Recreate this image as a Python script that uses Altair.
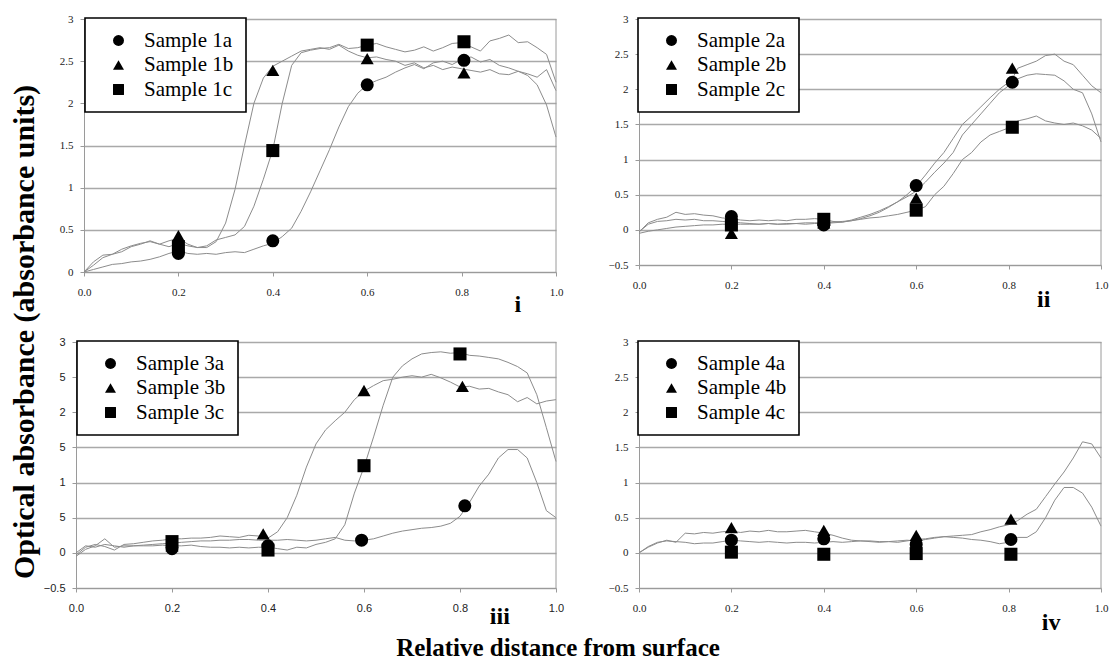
import altair as alt
import pandas as pd

# ---------------- data ----------------
XS = [0.00, 0.02, 0.04, 0.06, 0.08, 0.10, 0.12, 0.14, 0.16, 0.18,
      0.20, 0.22, 0.24, 0.26, 0.28, 0.30, 0.32, 0.34, 0.36, 0.38,
      0.40, 0.42, 0.44, 0.46, 0.48, 0.50, 0.52, 0.54, 0.56, 0.58,
      0.60, 0.62, 0.64, 0.66, 0.68, 0.70, 0.72, 0.74, 0.76, 0.78,
      0.80, 0.82, 0.84, 0.86, 0.88, 0.90, 0.92, 0.94, 0.96, 0.98, 1.00]

# panel i curves
P1A = [0.00, 0.03, 0.06, 0.09, 0.10, 0.12, 0.13, 0.15, 0.18, 0.22,
       0.25, 0.22, 0.21, 0.22, 0.21, 0.23, 0.24, 0.23, 0.27, 0.31,
       0.34, 0.42, 0.52, 0.72, 0.95, 1.20, 1.45, 1.72, 1.96, 2.12,
       2.22, 2.27, 2.31, 2.37, 2.42, 2.46, 2.41, 2.48, 2.50, 2.46,
       2.52, 2.55, 2.49, 2.52, 2.45, 2.42, 2.38, 2.33, 2.22, 1.98, 1.60]
P1B = [0.00, 0.12, 0.20, 0.21, 0.27, 0.31, 0.34, 0.36, 0.33, 0.37,
       0.40, 0.33, 0.29, 0.29, 0.36, 0.58, 0.98, 1.50, 2.00, 2.30,
       2.44, 2.50, 2.56, 2.62, 2.64, 2.66, 2.64, 2.69, 2.62, 2.57,
       2.54, 2.55, 2.52, 2.50, 2.45, 2.48, 2.42, 2.45, 2.40, 2.43,
       2.41, 2.39, 2.37, 2.40, 2.35, 2.34, 2.38, 2.35, 2.31, 2.40, 2.15]
P1C = [0.00, 0.08, 0.17, 0.21, 0.24, 0.30, 0.33, 0.37, 0.33, 0.30,
       0.34, 0.31, 0.29, 0.31, 0.38, 0.41, 0.44, 0.54, 0.78, 1.10,
       1.45, 2.00, 2.45, 2.60, 2.63, 2.65, 2.66, 2.70, 2.65, 2.66,
       2.69, 2.71, 2.67, 2.64, 2.61, 2.63, 2.67, 2.62, 2.66, 2.71,
       2.72, 2.67, 2.62, 2.74, 2.77, 2.81, 2.72, 2.73, 2.66, 2.58, 2.25]

# panel ii curves
P2A = [-0.03, 0.10, 0.15, 0.18, 0.25, 0.22, 0.23, 0.21, 0.20, 0.17,
       0.16, 0.14, 0.13, 0.14, 0.13, 0.14, 0.13, 0.15, 0.15, 0.16,
       0.15, 0.12, 0.11, 0.13, 0.16, 0.20, 0.25, 0.32, 0.40, 0.50,
       0.62, 0.78, 0.95, 1.10, 1.30, 1.50, 1.62, 1.75, 1.88, 2.00,
       2.10, 2.15, 2.20, 2.22, 2.21, 2.20, 2.12, 2.00, 1.95, 1.65, 1.25]
P2B = [-0.03, 0.08, 0.12, 0.13, 0.15, 0.14, 0.15, 0.13, 0.13, 0.12,
       0.11, 0.10, 0.09, 0.08, 0.09, 0.08, 0.08, 0.09, 0.08, 0.09,
       0.09, 0.10, 0.11, 0.14, 0.18, 0.22, 0.27, 0.33, 0.40, 0.47,
       0.55, 0.68, 0.82, 0.95, 1.10, 1.35, 1.50, 1.65, 1.80, 1.95,
       2.05, 2.30, 2.35, 2.40, 2.48, 2.50, 2.40, 2.35, 2.20, 2.05, 1.95]
P2C = [-0.05, -0.02, 0.00, 0.02, 0.04, 0.05, 0.06, 0.07, 0.07, 0.08,
       0.08, 0.08, 0.08, 0.08, 0.09, 0.08, 0.09, 0.09, 0.10, 0.10,
       0.10, 0.11, 0.12, 0.13, 0.15, 0.17, 0.18, 0.20, 0.22, 0.25,
       0.28, 0.33, 0.50, 0.62, 0.80, 1.00, 1.10, 1.25, 1.35, 1.40,
       1.45, 1.55, 1.58, 1.62, 1.55, 1.52, 1.50, 1.52, 1.48, 1.42, 1.30]

# panel iii curves
P3A = [-0.05, 0.05, 0.10, 0.20, 0.08, 0.10, 0.10, 0.11, 0.12, 0.13,
       0.14, 0.15, 0.16, 0.17, 0.17, 0.18, 0.18, 0.19, 0.19, 0.18,
       0.18, 0.18, 0.19, 0.18, 0.17, 0.18, 0.20, 0.22, 0.18, 0.17,
       0.18, 0.20, 0.24, 0.28, 0.31, 0.33, 0.35, 0.36, 0.38, 0.42,
       0.52, 0.72, 0.95, 1.12, 1.35, 1.47, 1.47, 1.35, 1.00, 0.60, 0.50]
P3B = [-0.03, 0.08, 0.12, 0.09, 0.04, 0.12, 0.13, 0.15, 0.17, 0.18,
       0.20, 0.20, 0.21, 0.21, 0.22, 0.24, 0.23, 0.22, 0.25, 0.24,
       0.21, 0.30, 0.50, 0.82, 1.22, 1.55, 1.75, 1.88, 2.00, 2.18,
       2.30, 2.38, 2.45, 2.47, 2.50, 2.52, 2.50, 2.54, 2.49, 2.43,
       2.36, 2.37, 2.33, 2.34, 2.29, 2.25, 2.15, 2.21, 2.12, 2.16, 2.18]
P3C = [0.00, 0.10, 0.08, 0.12, 0.10, 0.08, 0.10, 0.10, 0.10, 0.11,
       0.10, 0.10, 0.11, 0.09, 0.08, 0.08, 0.07, 0.08, 0.07, 0.08,
       0.08, 0.06, 0.04, 0.08, 0.07, 0.12, 0.15, 0.20, 0.40, 0.85,
       1.22, 1.65, 2.10, 2.50, 2.66, 2.76, 2.83, 2.85, 2.86, 2.84,
       2.85, 2.81, 2.80, 2.78, 2.76, 2.71, 2.65, 2.56, 2.25, 1.78, 1.30]

# panel iv curves
P4A = [0.00, 0.08, 0.14, 0.18, 0.15, 0.28, 0.27, 0.29, 0.28, 0.30,
       0.31, 0.29, 0.31, 0.30, 0.32, 0.30, 0.30, 0.31, 0.32, 0.30,
       0.28, 0.25, 0.21, 0.18, 0.17, 0.17, 0.16, 0.16, 0.15, 0.17,
       0.19, 0.20, 0.22, 0.23, 0.24, 0.25, 0.26, 0.30, 0.33, 0.37,
       0.40, 0.46, 0.55, 0.62, 0.80, 0.98, 1.15, 1.35, 1.58, 1.55, 1.35]
P4B = [0.00, 0.09, 0.15, 0.17, 0.16, 0.15, 0.13, 0.14, 0.14, 0.16,
       0.18, 0.17, 0.16, 0.15, 0.16, 0.15, 0.14, 0.15, 0.15, 0.14,
       0.15, 0.16, 0.15, 0.16, 0.17, 0.16, 0.15, 0.16, 0.17, 0.18,
       0.17, 0.19, 0.21, 0.23, 0.22, 0.21, 0.19, 0.18, 0.16, 0.13,
       0.15, 0.22, 0.22, 0.30, 0.50, 0.75, 0.93, 0.93, 0.85, 0.65, 0.38]

# marker (sample) values
S1_NAMES = ["Sample 1a", "Sample 1b", "Sample 1c"]
S1_X = [[0.2, 0.4, 0.6, 0.805], [0.2, 0.4, 0.6, 0.805], [0.2, 0.4, 0.6, 0.805]]
S1_Y = [[0.22, 0.37, 2.22, 2.51], [0.43, 2.39, 2.53, 2.36], [0.30, 1.44, 2.69, 2.73]]

S2_NAMES = ["Sample 2a", "Sample 2b", "Sample 2c"]
S2_X = [[0.2, 0.4, 0.6, 0.808], [0.2, 0.4, 0.6, 0.808], [0.2, 0.4, 0.6, 0.808]]
S2_Y = [[0.19, 0.07, 0.63, 2.10], [-0.05, 0.10, 0.45, 2.30], [0.07, 0.15, 0.28, 1.46]]

S3_NAMES = ["Sample 3a", "Sample 3b", "Sample 3c"]
S3_X = [[0.2, 0.4, 0.595, 0.81], [0.2, 0.39, 0.6, 0.805], [0.2, 0.4, 0.6, 0.8]]
S3_Y = [[0.06, 0.10, 0.18, 0.67], [0.10, 0.27, 2.31, 2.37], [0.16, 0.04, 1.24, 2.83]]

S4_NAMES = ["Sample 4a", "Sample 4b", "Sample 4c"]
S4_X = [[0.2, 0.4, 0.6, 0.805], [0.2, 0.4, 0.6, 0.805], [0.2, 0.4, 0.6, 0.805]]
S4_Y = [[0.18, 0.20, 0.12, 0.19], [0.36, 0.32, 0.25, 0.48], [0.01, -0.02, -0.01, -0.02]]

X_TICKS = [0.0, 0.2, 0.4, 0.6, 0.8, 1.0]
Y_TICKS_POS = [0, 0.5, 1, 1.5, 2, 2.5, 3]
Y_TICKS_NEG = [-0.5, 0, 0.5, 1, 1.5, 2, 2.5, 3]

Y_TITLE = "Optical absorbance (absorbance units)"
X_TITLE = "Relative distance from surface"

SERIF = "Liberation Serif"
SANS = "Liberation Sans"
GRID = "#a9a9a9"
AXIS = "#9a9a9a"
LINE = "#8c8c8c"
SHAPES = ["circle", "triangle-up", "square"]

ONE = pd.DataFrame({"k": [0]})


def panel(curves, names, mx, my, ymin, width, height, tick_font, tag, tag_x,
          tag_dy, legend_x, xoff=0, ylabel_expr=None, extra=None):
    rows = []
    for name, vals in zip(names, curves):
        for x, y in zip(XS, vals):
            rows.append({"x": x, "y": y, "series": name})
    lines_df = pd.DataFrame(rows)
    prow = []
    for name, xs, ys in zip(names, mx, my):
        for x, y in zip(xs, ys):
            prow.append({"x": x, "y": y, "sample": name})
    pts_df = pd.DataFrame(prow)

    if xoff:
        xsc = alt.Scale(domain=[0, 1], nice=False, range=[xoff, width])
    else:
        xsc = alt.Scale(domain=[0, 1], nice=False)
    ysc = alt.Scale(domain=[ymin, 3], nice=False, zero=False)

    ax_x = alt.Axis(values=X_TICKS, format=".1f", grid=False, title=None,
                    tickSize=4, labelPadding=10, labelFont=tick_font,
                    labelFontSize=11, labelColor="#222", domainColor=AXIS,
                    tickColor=AXIS, labelFlush=False, labelOverlap=False)
    yvals = Y_TICKS_NEG if ymin < 0 else Y_TICKS_POS
    ykw = dict(values=yvals, format="~g", grid=True, gridColor=GRID,
               gridWidth=1.5, title=None, tickSize=4, labelPadding=7,
               labelFont=tick_font, labelFontSize=11, labelColor="#222",
               domainColor=AXIS, tickColor=AXIS, labelOverlap=False,
               labelFlush=False)
    if xoff:
        ykw["offset"] = -xoff
    if ylabel_expr:
        ykw["labelExpr"] = ylabel_expr
    ax_y = alt.Axis(**ykw)

    lines = alt.Chart(lines_df).mark_line(color=LINE, strokeWidth=1).encode(
        x=alt.X("x:Q", scale=xsc, axis=ax_x),
        y=alt.Y("y:Q", scale=ysc, axis=ax_y),
        detail="series:N",
    )
    pts = alt.Chart(pts_df).mark_point(filled=True, color="black", size=170,
                                       opacity=1).encode(
        x=alt.X("x:Q", scale=xsc, axis=ax_x),
        y=alt.Y("y:Q", scale=ysc, axis=ax_y),
        shape=alt.Shape("sample:N",
                        scale=alt.Scale(domain=names, range=SHAPES),
                        legend=alt.Legend(
                            title=None, orient="none", legendX=legend_x,
                            legendY=-1, labelFont=SERIF, labelFontSize=21,
                            labelColor="black", symbolSize=120,
                            symbolFillColor="black", symbolStrokeColor="black",
                            padding=12, rowPadding=2.5, symbolOffset=11,
                            labelOffset=15, strokeColor="black",
                            fillColor="white",
                            labelExpr="datum.label + '\u00a0\u00a0\u00a0'")),
    )
    border = alt.Chart(ONE).mark_rule(color=AXIS, strokeWidth=1).encode(
        x=alt.XDatum(1, scale=xsc, axis=ax_x),
        y=alt.YDatum(ymin, scale=ysc, axis=ax_y),
        y2=alt.Y2Datum(3),
    )
    tag_mark = alt.Chart(ONE).mark_text(font=SERIF, fontSize=24,
                                        fontWeight="bold", color="black",
                                        baseline="middle").encode(
        x=alt.XDatum(tag_x, scale=xsc, axis=ax_x),
        y=alt.value(height + tag_dy),
        text=alt.value(tag),
    )
    layers = [lines, border, pts, tag_mark]
    if extra:
        layers += extra
    return alt.layer(*layers).properties(width=width, height=height)


# anchor rule (invisible) fixes the top-left extent of the whole figure
anchor = alt.Chart(ONE).mark_rule(opacity=0).encode(
    x=alt.value(-76), x2=alt.value(-70), y=alt.value(-19))

ytitle = alt.Chart(ONE).mark_text(angle=270, font=SERIF, fontSize=30,
                                  fontWeight="bold", color="black",
                                  baseline="middle", align="center").encode(
    x=alt.value(-51), y=alt.value(313), text=alt.value(Y_TITLE))

xtitle = alt.Chart(ONE).mark_text(font=SERIF, fontSize=25, fontWeight="bold",
                                  color="black", baseline="middle",
                                  align="center").encode(
    x=alt.value(482), y=alt.value(306), text=alt.value(X_TITLE))

p1 = panel([P1A, P1B, P1C], S1_NAMES, S1_X, S1_Y, 0, 480, 253, SERIF, "i",
           0.919, 33, 9, xoff=8, extra=[anchor, ytitle])
p2 = panel([P2A, P2B, P2C], S2_NAMES, S2_X, S2_Y, -0.5, 462, 246, SERIF, "ii",
           0.876, 35, -1)
p3 = panel([P3A, P3B, P3C], S3_NAMES, S3_X, S3_Y, -0.5, 480, 246, SANS, "iii",
           0.883, 29, 1,
           ylabel_expr="(datum.value % 1 == 0 || datum.value < 0) ? datum.label : '5'",
           extra=[xtitle])
# panel iv: only two traces are drawn in the reference
p4 = panel([P4A, P4B], S4_NAMES, S4_X, S4_Y, -0.5, 462, 246, SERIF, "iv",
           0.892, 35, -1)

chart = alt.concat(p1, p2, p3, p4, columns=2, bounds="flush",
                   spacing={"row": 70, "column": 83}).resolve_scale(
    x="independent", y="independent", shape="independent"
).resolve_legend(shape="independent").properties(
    padding={"left": 0, "top": 0, "right": 6, "bottom": 4},
    background="white",
).configure_view(stroke=None).configure_legend(strokeWidth=1.6)

chart.save("out.html", embed_options={"renderer": "svg", "actions": False})
